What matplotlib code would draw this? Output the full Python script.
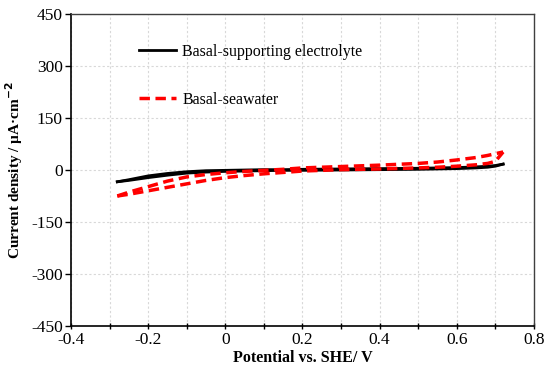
import matplotlib
matplotlib.use("Agg")
import matplotlib.pyplot as plt
from matplotlib.ticker import MultipleLocator

plt.rcParams['font.family'] = ['Liberation Serif', 'DejaVu Serif']
plt.rcParams['axes.unicode_minus'] = False

# potentials (V vs SHE)
pot = [-0.28, -0.25, -0.2, -0.15, -0.1, -0.05, 0.0, 0.05, 0.1, 0.15, 0.2,
       0.3, 0.4, 0.5, 0.55, 0.6, 0.65, 0.68, 0.7, 0.72]

# Basal-supporting electrolyte: forward and reverse branches (µA/cm2)
black_fwd = [-34, -30, -22, -15, -9, -6, -4, -3, -2, -1, -1,
             0, 1, 2, 3, 4, 6, 8, 11, 17]
black_rev = [-34, -28, -17, -10, -5, -2, -1, 0, 1, 1, 2,
             3, 4, 5, 6, 7, 9, 11, 13, 17]

# Basal-seawater: forward and reverse branches (µA/cm2)
red_fwd = [-75, -70, -60, -50, -40, -30, -22, -16, -11, -7, -3,
           1, 3, 6, 8, 11, 15, 19, 25, 52]
red_rev = [-75, -64, -48, -32, -20, -13, -8, -4, -1, 2, 6,
           10, 14, 19, 23, 29, 36, 42, 47, 52]

labels = ['Basal-supporting electrolyte', 'Basal-seawater']

fig = plt.figure(figsize=(5.5, 3.77), dpi=100)
ax = fig.add_axes([71/550, 1 - 326/377, 463/550, 312/377])

ax.plot(pot, black_fwd, color='black', lw=2.0, label=labels[0])
ax.plot(pot, black_rev, color='black', lw=2.0)
ax.plot(pot, red_fwd, color='#ff0000', lw=2.5, ls=(0, (3, 1.6)), label=labels[1])
ax.plot(pot, red_rev, color='#ff0000', lw=2.5, ls=(0, (3, 1.6)))

ax.set_xlim(-0.4, 0.8)
ax.set_ylim(-450, 450)
ax.xaxis.set_major_locator(MultipleLocator(0.2))
ax.xaxis.set_minor_locator(MultipleLocator(0.1))
ax.yaxis.set_major_locator(MultipleLocator(150))
ax.xaxis.set_major_formatter(plt.FuncFormatter(lambda v, p: "0" if abs(v) < 1e-9 else f"{v:.1f}"))

ax.grid(True, which='both', axis='x', color='#d8d8d8', ls=(0, (2, 2)), lw=0.8)
ax.grid(True, which='major', axis='y', color='#d8d8d8', ls=(0, (2, 2)), lw=0.8)
ax.set_axisbelow(True)

ax.tick_params(axis='x', which='both', direction='inout', length=5, width=1, labelsize=12.5, pad=2)
ax.tick_params(axis='y', which='major', direction='out', length=4, width=1, labelsize=12.5, pad=2)
for s in ['left', 'bottom']:
    ax.spines[s].set_color('black')
    ax.spines[s].set_linewidth(1.2)
for s in ['top', 'right']:
    ax.spines[s].set_color('#404040')
    ax.spines[s].set_linewidth(1.0)

ax.set_xlabel('Potential vs. SHE/ V', fontsize=11.5, fontweight='bold', labelpad=1)
ax.set_ylabel('Current density / µA·cm$^{\\mathbf{-2}}$', fontsize=11, fontweight='bold', labelpad=4)

leg = ax.legend(loc='upper left', bbox_to_anchor=(0.116, 0.95), frameon=False,
                fontsize=11.5, handlelength=2.3, handletextpad=0.4, labelspacing=2.0)

fig.savefig('out.png', dpi=100)
